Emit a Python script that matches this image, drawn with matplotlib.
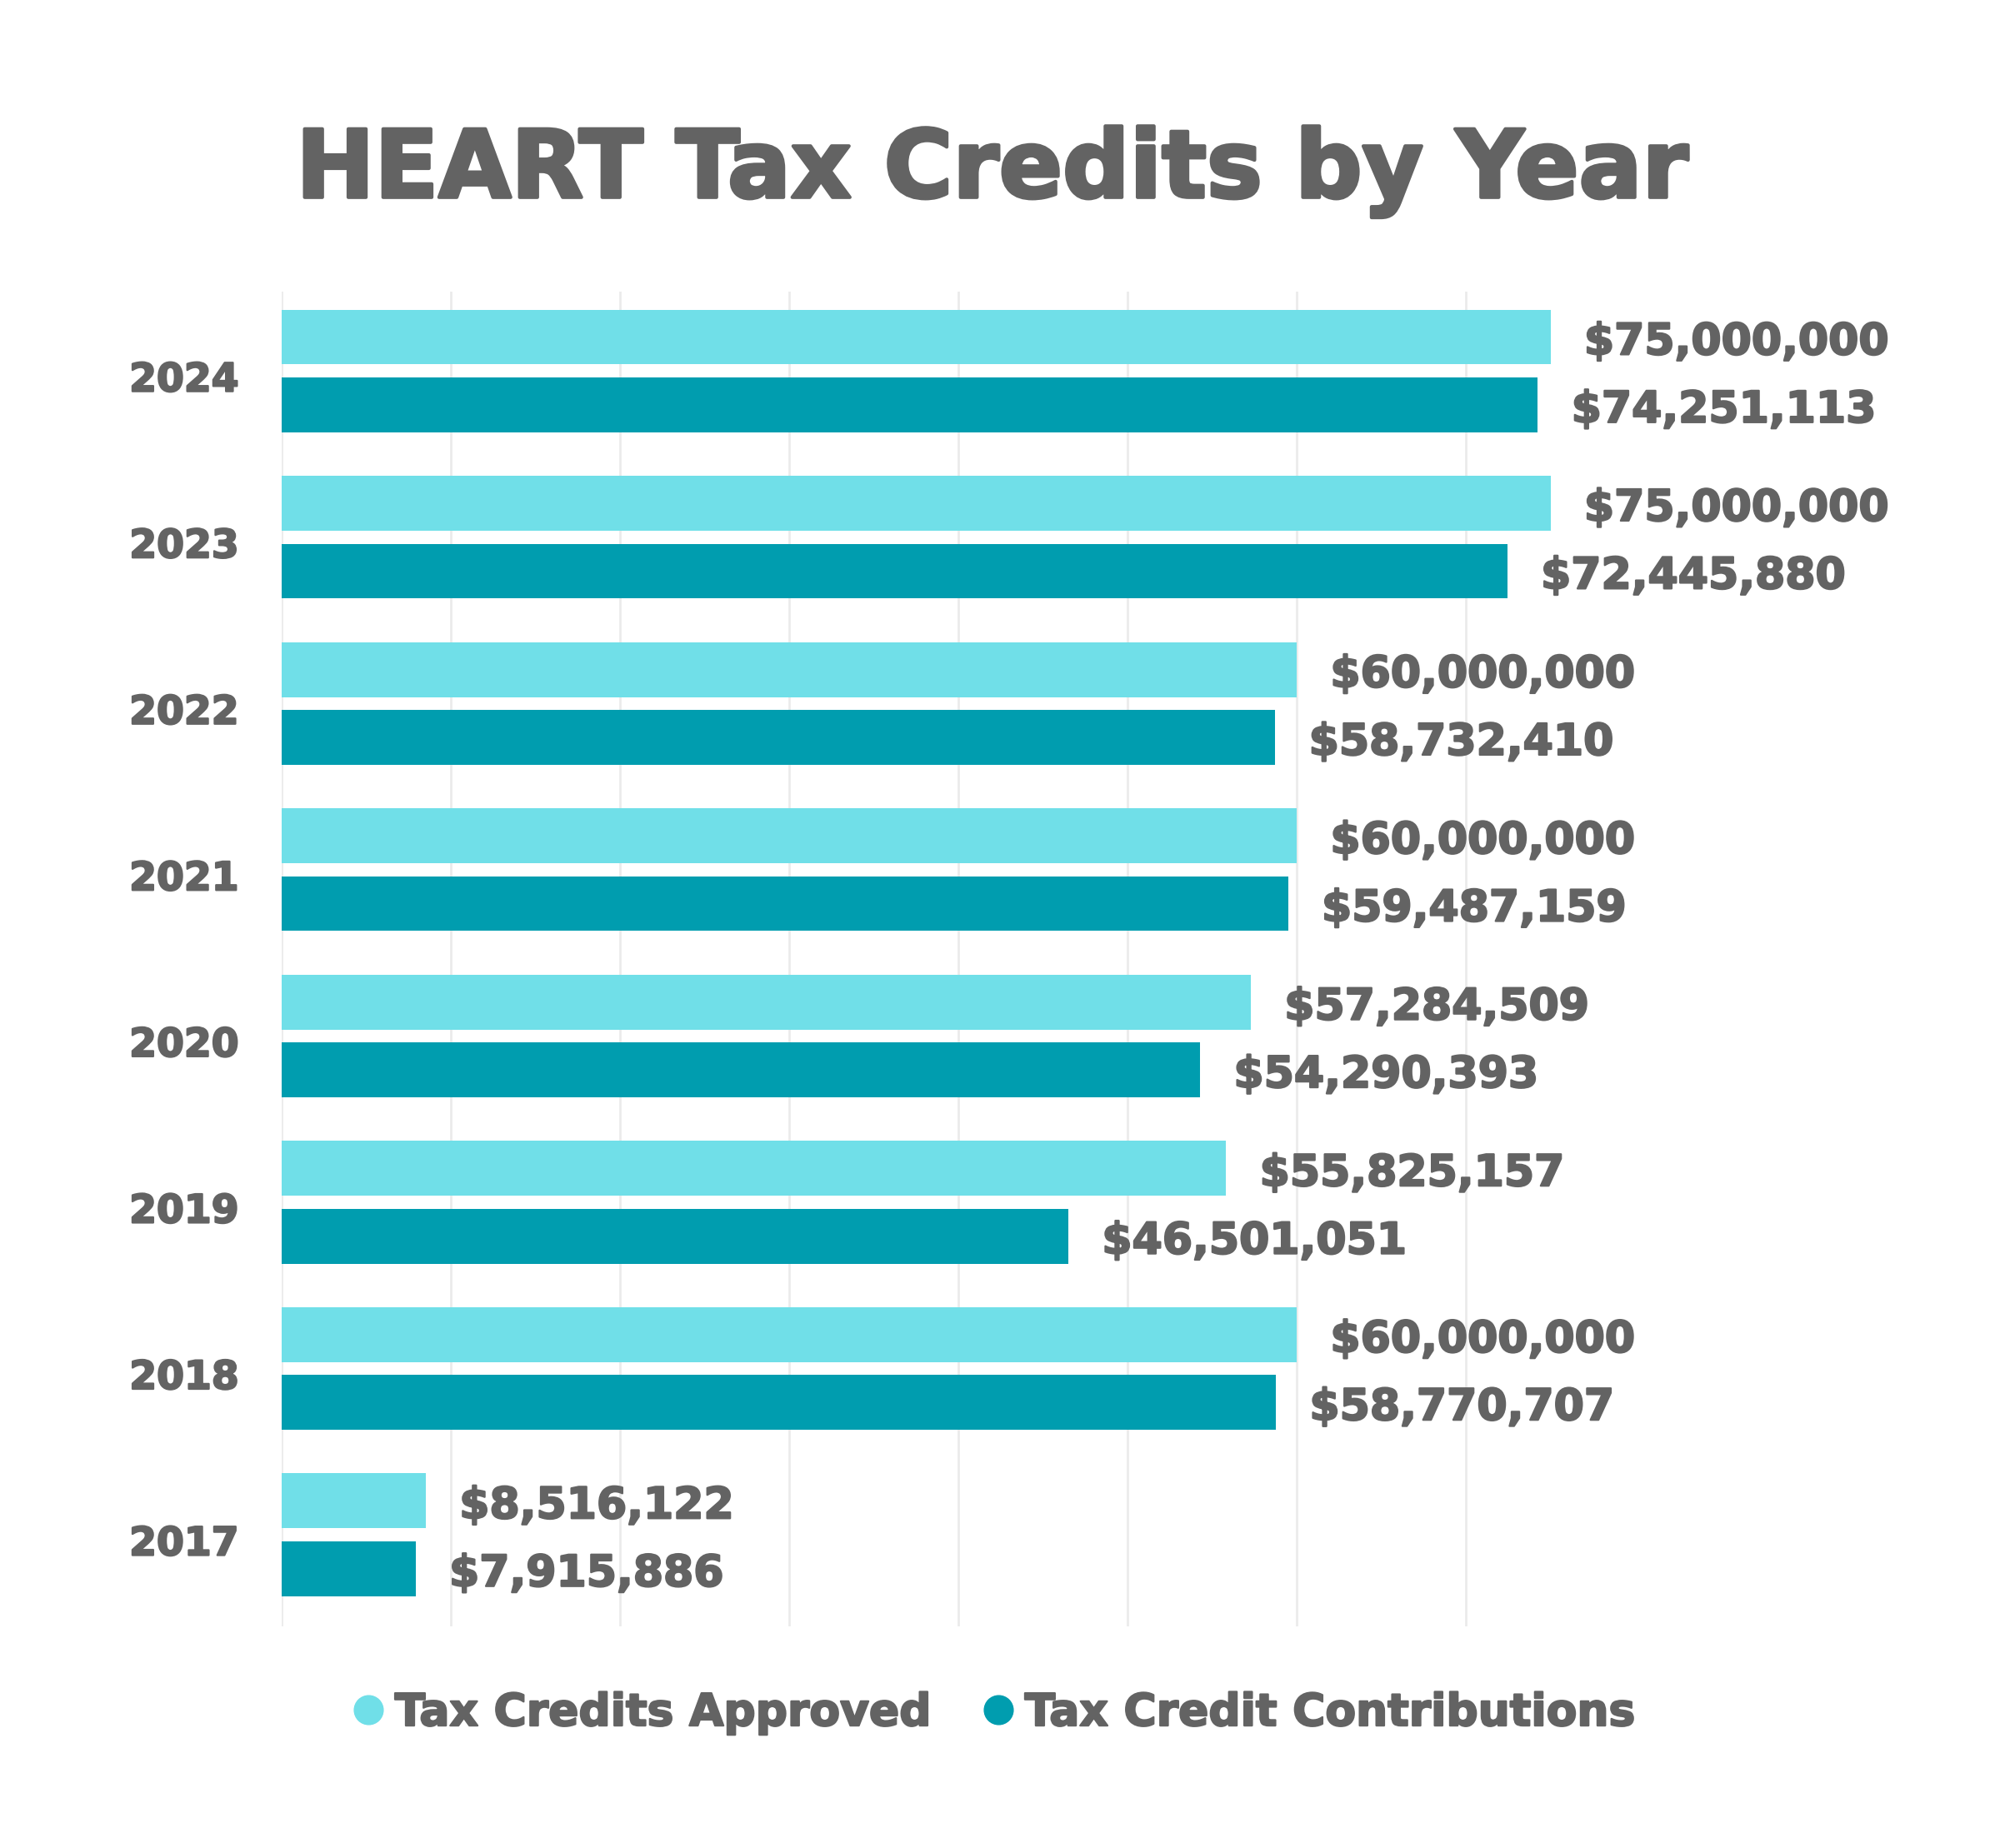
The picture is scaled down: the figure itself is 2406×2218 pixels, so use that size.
import matplotlib
matplotlib.use("Agg")
import matplotlib.pyplot as plt
import matplotlib.patheffects as pe
from matplotlib.lines import Line2D
import numpy as np

years = ["2024", "2023", "2022", "2021", "2020", "2019", "2018", "2017"]
approved = [75000000, 75000000, 60000000, 60000000, 57284509, 55825157, 60000000, 8516122]
contributions = [74251113, 72445880, 58732410, 59487159, 54290393, 46501051, 58770707, 7915886]
series_names = ["Tax Credits Approved", "Tax Credit Contributions"]
grid_ticks = [0, 10e6, 20e6, 30e6, 40e6, 50e6, 60e6, 70e6]

LIGHT = "#70DFE8"
DARK = "#009DAF"
TXT = "#636363"
GRID = "#EBEBEB"

plt.rcParams['font.family'] = ['DejaVu Sans']
heavy = [pe.withStroke(linewidth=1.6, foreground=TXT)]

fig = plt.figure(figsize=(24.06, 22.18), dpi=100)
ax = fig.add_axes([0.1405, 0.12, 0.8155 - 0.1405, 0.8422 - 0.12])

y = np.arange(len(years))
h = 0.33
off = 0.204
ax.barh(y - off, approved, height=h, color=LIGHT, zorder=2)
ax.barh(y + off, contributions, height=h, color=DARK, zorder=2)

for yi, v in zip(y - off, approved):
    ax.annotate(f"${v:,.0f}", (v, yi), xytext=(29, -5), textcoords="offset points",
                va="center", ha="left", fontsize=37.5, fontweight="bold", color=TXT,
                path_effects=heavy)
for yi, v in zip(y + off, contributions):
    ax.annotate(f"${v:,.0f}", (v, yi), xytext=(29, -5), textcoords="offset points",
                va="center", ha="left", fontsize=37.5, fontweight="bold", color=TXT,
                path_effects=heavy)

ax.set_xlim(0, 80e6)
ax.set_ylim(len(years) - 1 + 0.55, -0.477)
ax.set_xticks(grid_ticks)
ax.set_xticklabels([])
ax.set_yticks(y + 0.035)
ax.set_yticklabels(years, fontsize=34, fontweight="bold", color=TXT)
for t in ax.get_yticklabels():
    t.set_path_effects(heavy)
ax.tick_params(axis="y", length=0, pad=37)
ax.tick_params(axis="x", length=0)
ax.grid(axis="x", color=GRID, linewidth=2, zorder=0)
ax.set_axisbelow(True)
for s in ax.spines.values():
    s.set_visible(False)

fig.text(0.495, 0.907, "HEART Tax Credits by Year", ha="center", va="center",
         fontsize=81, fontweight="bold", color=TXT,
         path_effects=[pe.withStroke(linewidth=3, foreground=TXT)])

handles = [Line2D([], [], marker="o", linestyle="none", markersize=25, color=c)
           for c in (LIGHT, DARK)]
leg = fig.legend(handles, series_names, loc="center", bbox_to_anchor=(0.494, 0.073),
                 ncol=2, frameon=False, handletextpad=0.1, columnspacing=1.0,
                 handlelength=1.0, prop={"size": 38.5, "weight": "bold"})
for t in leg.get_texts():
    t.set_color(TXT)
    t.set_path_effects(heavy)

fig.savefig("out.png", dpi=100, facecolor="white")
